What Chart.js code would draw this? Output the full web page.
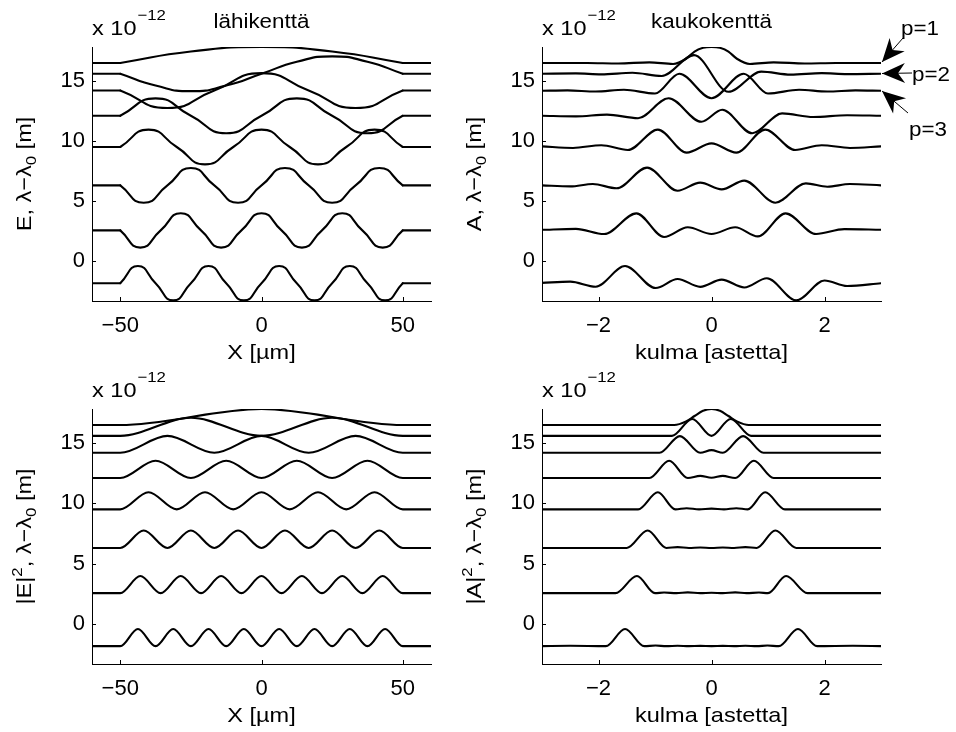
<!DOCTYPE html>
<html>
<head>
<meta charset="utf-8">
<script src="https://cdn.jsdelivr.net/npm/chart.js@4.4.0/dist/chart.umd.min.js"></script>
<style>
  html, body { margin: 0; padding: 0; background: #fff; }
  #wrap { position: relative; width: 956px; height: 732px; }
  #wrap canvas { position: absolute; left: 0; top: 0; }
</style>
</head>
<body>
<div id="wrap">
  <canvas id="nearE" width="956" height="732"></canvas>
  <canvas id="farA" width="956" height="732"></canvas>
  <canvas id="nearI" width="956" height="732"></canvas>
  <canvas id="farI" width="956" height="732"></canvas>
</div>
<script>
// axis limits and ticks
const nearRange = [-60, 60];
const farRange = [-3, 3];
const yRange = [-3.33, 17.83];
const nearTicks = [-50, 0, 50];
const farTicks = [-2, 0, 2];
const yTicks = [0, 5, 10, 15];

// near field E, modes p=1..8  [X um, lambda-lambda0 (x1e-12)]
const nearE1 = [[-60,16.5],[-50,16.5],[-25,17.45],[0,17.83],[25,17.45],[50,16.5],[60,16.5]];
const nearE2 = [[-60,15.6],[-50,15.6],[-37.5,14.62],[-25,14.15],[-12.5,14.62],[0,15.6],[12.5,16.6],[25,17.05],[37.5,16.6],[50,15.6],[60,15.6]];
const nearE3 = [[-60,14.2],[-50,14.2],[-33.3,12.75],[-16.7,14.2],[0,15.65],[16.7,14.2],[33.3,12.75],[50,14.2],[60,14.2]];
const nearE4 = [[-60,12.1],[-50,12.1],[-37.5,13.55],[-25,12.1],[-12.5,10.65],[0,12.1],[12.5,13.55],[25,12.1],[37.5,10.65],[50,12.1],[60,12.1]];
const nearE5 = [[-60,9.5],[-50,9.5],[-40,10.95],[-30,9.5],[-20,8.05],[-10,9.5],[0,10.95],[10,9.5],[20,8.05],[30,9.5],[40,10.95],[50,9.5],[60,9.5]];
const nearE6 = [[-60,6.3],[-50,6.3],[-41.7,4.85],[-33.3,6.3],[-25,7.75],[-16.7,6.3],[-8.3,4.85],[0,6.3],[8.3,7.75],[16.7,6.3],[25,4.85],[33.3,6.3],[41.7,7.75],[50,6.3],[60,6.3]];
const nearE7 = [[-60,2.55],[-50,2.55],[-42.9,1.12],[-35.7,2.55],[-28.6,3.98],[-21.4,2.55],[-14.3,1.12],[-7.1,2.55],[0,3.98],[7.1,2.55],[14.3,1.12],[21.4,2.55],[28.6,3.98],[35.7,2.55],[42.9,1.12],[50,2.55],[60,2.55]];
const nearE8 = [[-60,-1.85],[-50,-1.85],[-43.75,-0.42],[-37.5,-1.85],[-31.25,-3.28],[-25,-1.85],[-18.75,-0.42],[-12.5,-1.85],[-6.25,-3.28],[0,-1.85],[6.25,-0.42],[12.5,-1.85],[18.75,-3.28],[25,-1.85],[31.25,-0.42],[37.5,-1.85],[43.75,-3.28],[50,-1.85],[60,-1.85]];

// near field |E|^2
const nearI1 = [[-60,16.5],[-50,16.5],[0,17.83],[50,16.5],[60,16.5]];
const nearI2 = [[-60,15.6],[-50,15.6],[-25,17.1],[0,15.6],[25,17.1],[50,15.6],[60,15.6]];
const nearI3 = [[-60,14.2],[-50,14.2],[-33.3,15.6],[-16.7,14.2],[0,15.6],[16.7,14.2],[33.3,15.6],[50,14.2],[60,14.2]];
const nearI4 = [[-60,12.1],[-50,12.1],[-37.5,13.53],[-25,12.1],[-12.5,13.53],[0,12.1],[12.5,13.53],[25,12.1],[37.5,13.53],[50,12.1],[60,12.1]];
const nearI5 = [[-60,9.5],[-50,9.5],[-40,10.92],[-30,9.5],[-20,10.92],[-10,9.5],[0,10.92],[10,9.5],[20,10.92],[30,9.5],[40,10.92],[50,9.5],[60,9.5]];
const nearI6 = [[-60,6.3],[-50,6.3],[-41.7,7.75],[-33.3,6.3],[-25,7.75],[-16.7,6.3],[-8.3,7.75],[0,6.3],[8.3,7.75],[16.7,6.3],[25,7.75],[33.3,6.3],[41.7,7.75],[50,6.3],[60,6.3]];
const nearI7 = [[-60,2.55],[-50,2.55],[-42.9,3.97],[-35.7,2.55],[-28.6,3.97],[-21.4,2.55],[-14.3,3.97],[-7.1,2.55],[0,3.97],[7.1,2.55],[14.3,3.97],[21.4,2.55],[28.6,3.97],[35.7,2.55],[42.9,3.97],[50,2.55],[60,2.55]];
const nearI8 = [[-60,-1.85],[-50,-1.85],[-43.75,-0.42],[-37.5,-1.85],[-31.25,-0.42],[-25,-1.85],[-18.75,-0.42],[-12.5,-1.85],[-6.25,-0.42],[0,-1.85],[6.25,-0.42],[12.5,-1.85],[18.75,-0.42],[25,-1.85],[31.25,-0.42],[37.5,-1.85],[43.75,-0.42],[50,-1.85],[60,-1.85]];

// far field A  [angle deg, lambda-lambda0 (x1e-12)]
const farA1 = [[-3,16.5],[-2.2,16.5],[-1.65,16.46],[-1.1,16.55],[-0.68,16.42],[-0.45,16.85],[-0.3,17.45],[-0.15,17.76],[0,17.83],[0.15,17.76],[0.3,17.45],[0.45,16.85],[0.68,16.42],[1.1,16.55],[1.65,16.46],[2.2,16.5],[3,16.5]];
const farA2 = [[-3,15.6],[-2.4,15.63],[-1.95,15.55],[-1.4,15.68],[-0.88,15.42],[-0.31,17.15],[0.3,14.1],[0.88,15.78],[1.4,15.53],[1.95,15.65],[2.4,15.57],[3,15.6]];
const farA3 = [[-3,14.18],[-2.55,14.22],[-2.05,14.12],[-1.55,14.27],[-1.0,13.95],[-0.57,15.6],[0,13.56],[0.57,15.6],[1.0,13.95],[1.55,14.27],[2.05,14.12],[2.55,14.22],[3,14.18]];
const farA4 = [[-3,12.1],[-2.4,12.05],[-1.85,12.2],[-1.3,11.9],[-0.76,13.56],[-0.18,11.6],[0.19,12.6],[0.72,10.64],[1.25,12.3],[1.8,12.0],[2.4,12.15],[3,12.1]];
const farA5 = [[-3,9.55],[-2.45,9.42],[-1.95,9.65],[-1.48,9.25],[-0.95,10.95],[-0.44,9.03],[0,9.8],[0.44,9.03],[0.95,10.95],[1.48,9.25],[1.95,9.65],[2.45,9.42],[3,9.55]];
const farA6 = [[-3,6.3],[-2.5,6.22],[-2.1,6.42],[-1.68,6.06],[-1.14,7.78],[-0.6,5.86],[-0.2,6.53],[0.18,5.97],[0.58,6.7],[1.13,4.86],[1.67,6.47],[2.05,6.19],[2.45,6.42],[3,6.3]];
const farA7 = [[-3,2.6],[-2.4,2.68],[-1.9,2.25],[-1.33,3.97],[-0.84,2.0],[-0.42,2.81],[0,2.25],[0.42,2.81],[0.82,2.05],[1.31,3.97],[1.85,2.25],[2.35,2.66],[3,2.6]];
const farA8 = [[-3,-1.82],[-2.5,-1.72],[-2.05,-2.14],[-1.53,-0.42],[-0.99,-2.25],[-0.6,-1.5],[-0.2,-2.15],[0.18,-1.55],[0.58,-2.2],[0.98,-1.44],[1.5,-3.28],[2.0,-1.62],[2.4,-2.08],[3,-1.85]];

// far field |A|^2
const farI1 = [[-3,16.5],[-0.66,16.5],[-0.45,16.8],[-0.3,17.25],[-0.15,17.68],[0,17.83],[0.15,17.68],[0.3,17.25],[0.45,16.8],[0.66,16.5],[3,16.5]];
const farI2 = [[-3,15.6],[-0.7,15.6],[-0.34,17.0],[0,15.6],[0.34,17.0],[0.7,15.6],[3,15.6]];
const farI3 = [[-3,14.2],[-0.92,14.2],[-0.56,15.58],[-0.2,14.2],[0,14.42],[0.2,14.2],[0.56,15.58],[0.92,14.2],[3,14.2]];
const farI4 = [[-3,12.1],[-1.1,12.1],[-0.75,13.53],[-0.42,12.1],[-0.2,12.28],[0,12.12],[0.2,12.28],[0.42,12.1],[0.75,13.53],[1.1,12.1],[3,12.1]];
const farI5 = [[-3,9.5],[-1.3,9.5],[-0.95,10.92],[-0.64,9.5],[-0.44,9.6],[-0.22,9.5],[0,9.56],[0.22,9.5],[0.44,9.6],[0.64,9.5],[0.95,10.92],[1.3,9.5],[3,9.5]];
const farI6 = [[-3,6.3],[-1.5,6.3],[-1.13,7.75],[-0.8,6.3],[-0.6,6.37],[-0.4,6.3],[-0.2,6.34],[0,6.3],[0.2,6.34],[0.4,6.3],[0.6,6.37],[0.8,6.3],[1.13,7.75],[1.5,6.3],[3,6.3]];
const farI7 = [[-3,2.55],[-1.7,2.55],[-1.32,3.97],[-1.0,2.55],[-0.84,2.6],[-0.62,2.55],[-0.42,2.61],[-0.2,2.55],[0,2.58],[0.2,2.55],[0.42,2.61],[0.62,2.55],[0.84,2.6],[1.0,2.55],[1.32,3.97],[1.7,2.55],[3,2.55]];
const farI8 = [[-3,-1.85],[-2.5,-1.82],[-1.87,-1.85],[-1.53,-0.42],[-1.19,-1.85],[-0.99,-1.8],[-0.8,-1.85],[-0.6,-1.81],[-0.4,-1.85],[-0.2,-1.83],[0,-1.85],[0.2,-1.83],[0.4,-1.85],[0.6,-1.81],[0.8,-1.85],[0.99,-1.8],[1.19,-1.85],[1.53,-0.42],[1.87,-1.85],[2.5,-1.82],[3,-1.85]];

const FONT = '"Liberation Sans", Arial, Helvetica, sans-serif';
const WIDE = 1.12;   // matlab text runs a bit wider than Liberation

// plot boxes in page pixels
const panels = [
  { id: 'nearE', area: { l: 92, r: 431, t: 47, b: 301 }, range: nearRange, ticks: nearTicks,
    modes: [nearE1, nearE2, nearE3, nearE4, nearE5, nearE6, nearE7, nearE8], split: true,
    title: 'lähikenttä', xLabel: 'X [µm]',
    yLabel: [{ t: 'E, λ−λ' }, { t: '0', sub: true }, { t: ' [m]' }] },
  { id: 'farA', area: { l: 542, r: 881, t: 47, b: 301 }, range: farRange, ticks: farTicks,
    modes: [farA1, farA2, farA3, farA4, farA5, farA6, farA7, farA8], split: false,
    title: 'kaukokenttä', xLabel: 'kulma [astetta]', arrows: true,
    yLabel: [{ t: 'A, λ−λ' }, { t: '0', sub: true }, { t: ' [m]' }] },
  { id: 'nearI', area: { l: 92, r: 431, t: 409, b: 664 }, range: nearRange, ticks: nearTicks,
    modes: [nearI1, nearI2, nearI3, nearI4, nearI5, nearI6, nearI7, nearI8], split: false,
    title: '', xLabel: 'X [µm]',
    yLabel: [{ t: '|E|' }, { t: '2', sup: true }, { t: ', λ−λ' }, { t: '0', sub: true }, { t: ' [m]' }] },
  { id: 'farI', area: { l: 542, r: 881, t: 409, b: 664 }, range: farRange, ticks: farTicks,
    modes: [farI1, farI2, farI3, farI4, farI5, farI6, farI7, farI8], split: false,
    title: '', xLabel: 'kulma [astetta]',
    yLabel: [{ t: '|A|' }, { t: '2', sup: true }, { t: ', λ−λ' }, { t: '0', sub: true }, { t: ' [m]' }] }
];

const Y_W = 80, X_H = 60;

function lineSet(pts, extra) {
  return Object.assign({
    data: pts, borderColor: '#000', borderWidth: 2.1, pointRadius: 0, fill: false,
    borderCapStyle: 'round', borderJoinStyle: 'round'
  }, extra);
}

function buildSets(p) {
  const sets = [];
  p.modes.forEach(pts => {
    if (p.split) {
      // flat outside the guide, curved inside
      const n = pts.length;
      sets.push(lineSet(pts.slice(0, 2), { tension: 0 }));
      sets.push(lineSet(pts.slice(1, n - 1), { tension: 0.55 }));
      sets.push(lineSet(pts.slice(n - 2), { tension: 0 }));
    } else {
      sets.push(lineSet(pts, { cubicInterpolationMode: 'monotone' }));
    }
  });
  return sets;
}

// text with a little horizontal stretch
function wideText(ctx, txt, x, y, size, align) {
  ctx.save();
  ctx.font = size + 'px ' + FONT;
  const w = ctx.measureText(txt).width * WIDE;
  let x0 = x;
  if (align === 'center') x0 = x - w / 2;
  ctx.translate(x0, y);
  ctx.scale(WIDE, 1);
  ctx.textAlign = 'left';
  ctx.textBaseline = 'alphabetic';
  ctx.fillText(txt, 0, 0);
  ctx.restore();
  return w;
}

function rich(ctx, segs, cx, cy, rot, size) {
  const f = s => ((s.sub || s.sup) ? Math.round(size * 0.7) : size) + 'px ' + FONT;
  ctx.save();
  ctx.translate(cx, cy);
  ctx.rotate(rot);
  ctx.scale(WIDE, 1);
  let w = 0;
  segs.forEach(s => { ctx.font = f(s); w += ctx.measureText(s.t).width; });
  let x = -w / 2;
  ctx.fillStyle = '#000';
  ctx.textAlign = 'left';
  ctx.textBaseline = 'alphabetic';
  segs.forEach(s => {
    ctx.font = f(s);
    const dy = s.sub ? size * 0.28 : (s.sup ? -size * 0.42 : 0);
    ctx.fillText(s.t, x, size * 0.36 + dy);
    x += ctx.measureText(s.t).width;
  });
  ctx.restore();
}

function arrow(ctx, x0, y0, x1, y1) {
  const a = Math.atan2(y1 - y0, x1 - x0);
  ctx.save();
  ctx.strokeStyle = '#000';
  ctx.fillStyle = '#000';
  ctx.lineWidth = 1;
  ctx.beginPath();
  ctx.moveTo(x0, y0);
  ctx.lineTo(x1, y1);
  ctx.stroke();
  ctx.translate(x1, y1);
  ctx.rotate(a);
  ctx.beginPath();
  ctx.moveTo(0, 0);
  ctx.lineTo(-23, -10);
  ctx.lineTo(-16, 0);
  ctx.lineTo(-23, 10);
  ctx.closePath();
  ctx.fill();
  ctx.restore();
}

const decor = {
  id: 'decor',
  afterDraw(chart, args, opts) {
    const p = opts.panel;
    const ctx = chart.ctx;
    const a = chart.chartArea;
    const xs = chart.scales.x, ys = chart.scales.y;
    ctx.save();
    ctx.strokeStyle = '#000';
    ctx.lineWidth = 1;
    // inward tick marks
    ctx.beginPath();
    yTicks.forEach(v => {
      const y = Math.round(ys.getPixelForValue(v)) + 0.5;
      ctx.moveTo(a.left, y); ctx.lineTo(a.left + 4, y);
    });
    p.ticks.forEach(v => {
      const x = Math.round(xs.getPixelForValue(v)) + 0.5;
      ctx.moveTo(x, a.bottom); ctx.lineTo(x, a.bottom - 4);
    });
    ctx.stroke();
    ctx.fillStyle = '#000';
    // exponent
    const w = wideText(ctx, 'x 10', a.left, a.top - 12, 21, 'left');
    wideText(ctx, '−12', a.left + w + 1, a.top - 27, 15, 'left');
    // title
    if (p.title) wideText(ctx, p.title, (a.left + a.right) / 2, a.top - 19, 20, 'center');
    // x label
    wideText(ctx, p.xLabel, (a.left + a.right) / 2, a.bottom + 58, 21, 'center');
    // y label
    rich(ctx, p.yLabel, a.left - 69, (a.top + a.bottom) / 2, -Math.PI / 2, 21);
    if (p.arrows) {
      wideText(ctx, 'p=1', 920, 35, 20, 'center');
      wideText(ctx, 'p=2', 931, 81, 20, 'center');
      wideText(ctx, 'p=3', 928, 136, 20, 'center');
      arrow(ctx, 903, 38, 882, 62);
      arrow(ctx, 912, 73, 882, 73.5);
      arrow(ctx, 908, 113, 882, 91);
    }
    ctx.restore();
  }
};

panels.forEach(p => {
  const A = p.area;
  new Chart(document.getElementById(p.id), {
    type: 'line',
    data: { datasets: buildSets(p) },
    options: {
      responsive: false,
      animation: false,
      events: [],
      layout: { padding: { left: A.l - Y_W, top: A.t, right: 956 - A.r, bottom: 732 - A.b - X_H } },
      plugins: {
        legend: { display: false },
        tooltip: { enabled: false },
        decor: { panel: p }
      },
      scales: {
        x: {
          type: 'linear', min: p.range[0], max: p.range[1],
          afterBuildTicks: s => { s.ticks = p.ticks.map(v => ({ value: v })); },
          afterFit: s => { s.height = X_H; },
          grid: { display: false, drawTicks: false },
          border: { display: true, color: '#000', width: 1 },
          ticks: {
            autoSkip: false, maxRotation: 0, padding: 12, color: '#000',
            font: { family: FONT, size: 22 },
            callback: v => String(v).replace('-', '−')
          }
        },
        y: {
          type: 'linear', min: yRange[0], max: yRange[1],
          afterBuildTicks: s => { s.ticks = yTicks.map(v => ({ value: v })); },
          afterFit: s => { s.width = Y_W; },
          grid: { display: false, drawTicks: false },
          border: { display: true, color: '#000', width: 1 },
          ticks: {
            autoSkip: false, padding: 7, color: '#000',
            font: { family: FONT, size: 22 },
            callback: v => String(v).replace('-', '−')
          }
        }
      }
    },
    plugins: [decor]
  });
});
</script>
</body>
</html>
